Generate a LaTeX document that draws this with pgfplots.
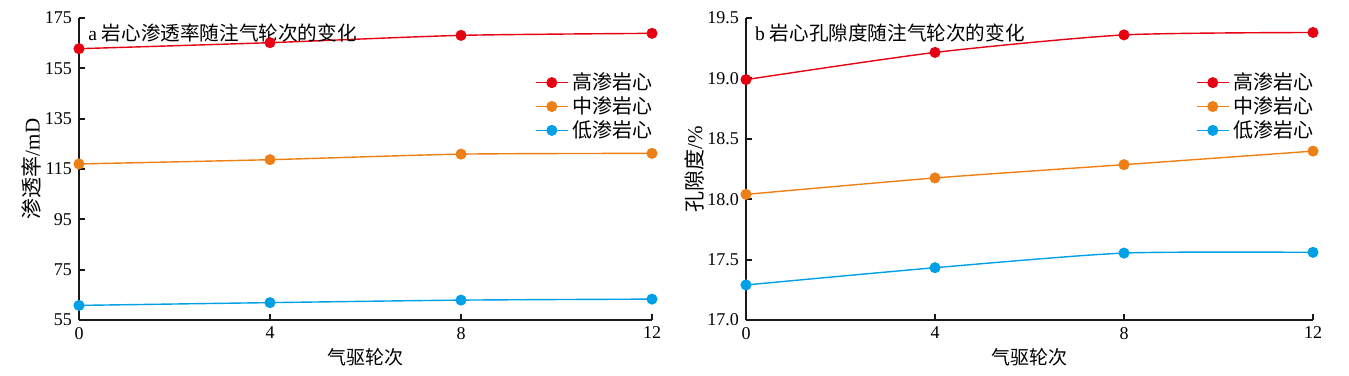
\documentclass[border=0pt]{standalone}
\usepackage{fontspec}
\setmainfont{Liberation Serif}
\newfontfamily\cjk{Noto Sans CJK SC}
\usepackage{pgfplots}
\pgfplotsset{compat=1.18}
\definecolor{cred}{HTML}{E60012}
\definecolor{corange}{HTML}{EE7F14}
\definecolor{cblue}{HTML}{00A0E6}
\pgfplotsset{mystyle/.style={
  scale only axis, height=151pt,
  axis x line*=bottom, axis y line*=left,
  axis line style={line width=1.4pt, black!90},
  tick align=inside, major tick length=3pt, tick style={line width=1pt, black!90},
  xmin=0, xmax=12, xtick={0,4,8,12},
  font=\fontsize{9}{10}\selectfont,
  /pgf/number format/assume math mode=true,
  clip=false,
  xlabel={\cjk 气驱轮次},
  xlabel style={font=\cjk\fontsize{9.5}{10}\selectfont, yshift=2pt},
  ylabel style={font=\fontsize{10.5}{11}\selectfont, yshift=-5pt},
  every axis plot/.append style={line width=0.7pt, mark=*, mark size=2.4pt, smooth, tension=0.4},
  legend style={draw=none, fill=none, font=\cjk\fontsize{10}{11}\selectfont, row sep=-2pt,
    at={(rel axis cs:1.012,0.84)}, anchor=north east, inner sep=1pt},
  legend cell align=left,
  legend image code/.code={\draw[mark repeat=2,mark phase=2] plot coordinates {(0cm,0cm) (0.28cm,0cm) (0.56cm,0cm)};},
}}
\begin{document}
\begin{tikzpicture}
\path[use as bounding box] (0,0) rectangle (674.5pt,187.5pt);
\begin{axis}[mystyle, at={(39.5pt,27.5pt)}, anchor=south west, width=286.5pt,
  ymin=55, ymax=175, ytick={55,75,95,115,135,155,175},
  ylabel={{\cjk 渗透率}/mD}]
\addplot[cred] coordinates {(0,162.8) (4,165.2) (8,168.1) (12,168.9)};
\addlegendentry{高渗岩心}
\addplot[corange] coordinates {(0,117.0) (4,118.7) (8,120.9) (12,121.2)};
\addlegendentry{中渗岩心}
\addplot[cblue] coordinates {(0,60.8) (4,61.9) (8,62.9) (12,63.3)};
\addlegendentry{低渗岩心}
\node[anchor=north west, inner sep=1pt, font=\fontsize{9.8}{11}\selectfont] at (rel axis cs:0.012,0.99) {a {\cjk 岩心渗透率随注气轮次的变化}};
\end{axis}
\begin{axis}[mystyle, at={(373pt,27.5pt)}, anchor=south west, width=283.5pt,
  ymin=17, ymax=19.5, ytick={17,17.5,18,18.5,19,19.5},
  yticklabel style={/pgf/number format/.cd, fixed, fixed zerofill, precision=1},
  ylabel={{\cjk 孔隙度}/\%}]
\addplot[cred] coordinates {(0,18.99) (4,19.215) (8,19.36) (12,19.38)};
\addlegendentry{高渗岩心}
\addplot[corange] coordinates {(0,18.04) (4,18.176) (8,18.286) (12,18.398)};
\addlegendentry{中渗岩心}
\addplot[cblue] coordinates {(0,17.29) (4,17.433) (8,17.554) (12,17.56)};
\addlegendentry{低渗岩心}
\node[anchor=north west, inner sep=1pt, font=\fontsize{9.8}{11}\selectfont] at (rel axis cs:0.012,0.99) {b {\cjk 岩心孔隙度随注气轮次的变化}};
\end{axis}
\end{tikzpicture}
\end{document}
